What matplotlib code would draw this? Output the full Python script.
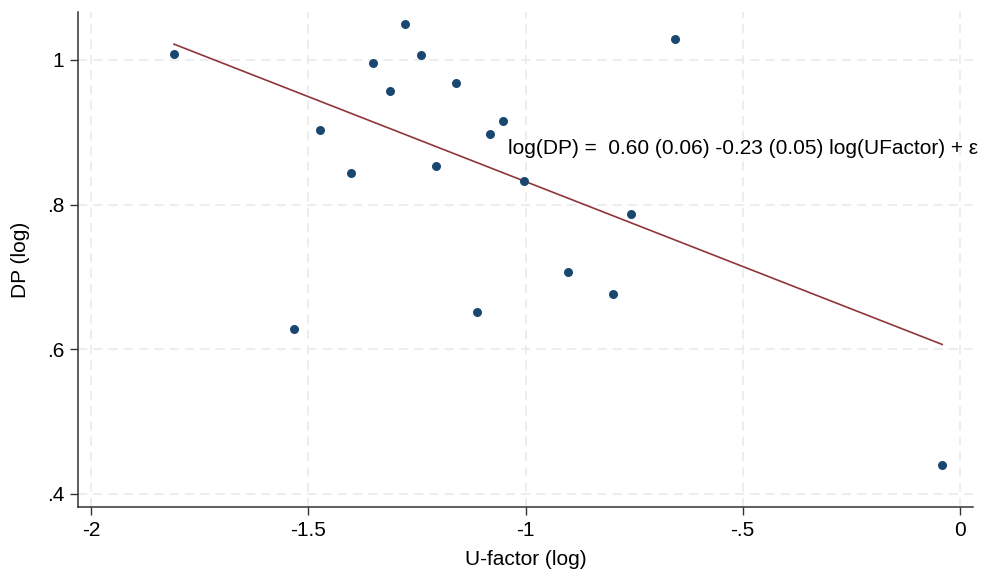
import matplotlib
matplotlib.use("Agg")
import matplotlib.pyplot as plt
import numpy as np

plt.rcParams['font.family'] = ['Liberation Sans', 'DejaVu Sans']

# Data
u_factor_log = [-1.809, -1.533, -1.473, -1.402, -1.351, -1.312, -1.277, -1.241,
                -1.206, -1.160, -1.112, -1.082, -1.052, -1.003, -0.902, -0.799,
                -0.757, -0.656, -0.041]
dp_log = [1.008, 0.628, 0.903, 0.844, 0.995, 0.957, 1.050, 1.006,
          0.853, 0.968, 0.652, 0.898, 0.916, 0.833, 0.707, 0.676,
          0.787, 1.029, 0.440]
fit_intercept = 0.597
fit_slope = -0.2347

x_ticks = [-2, -1.5, -1, -0.5, 0]
x_tick_labels = ['-2', '-1.5', '-1', '-.5', '0']
y_ticks = [0.4, 0.6, 0.8, 1.0]
y_tick_labels = ['.4', '.6', '.8', '1']
annotation = 'log(DP) =  0.60 (0.06) -0.23 (0.05) log(UFactor) + ε'

fs = 15

fig = plt.figure(figsize=(9.87, 5.72), dpi=100)
ax = fig.add_axes([78/987, 1 - 507/572, (973-78)/987, (507-12)/572])

ax.set_xlim(-2.030, 0.030)
ax.set_ylim(0.382, 1.066)

ax.grid(True, color='#e8e8e8', linestyle=(0, (6, 4)), linewidth=1.1)
ax.set_axisbelow(True)

xs = np.array([min(u_factor_log), max(u_factor_log)])
ax.plot(xs, fit_intercept + fit_slope * xs, color='#90353b', linewidth=1.2, zorder=2)
ax.scatter(u_factor_log, dp_log, s=42, color='#1a476f', zorder=3, linewidths=0)

ax.text(-1.040, 0.878, annotation, fontsize=fs, va='center', ha='left', color='black')

for s in ['top', 'right']:
    ax.spines[s].set_visible(False)
for s in ['left', 'bottom']:
    ax.spines[s].set_color('#333333')
    ax.spines[s].set_linewidth(1.1)

ax.set_xticks(x_ticks)
ax.set_xticklabels(x_tick_labels)
ax.set_yticks(y_ticks)
ax.set_yticklabels(y_tick_labels)
ax.tick_params(direction='out', length=6, width=1, color='#333333', labelsize=fs, pad=4)

ax.set_xlabel('U-factor (log)', fontsize=fs, labelpad=7)
ax.set_ylabel('DP (log)', fontsize=fs, labelpad=12)

fig.savefig('out.png', dpi=100)
